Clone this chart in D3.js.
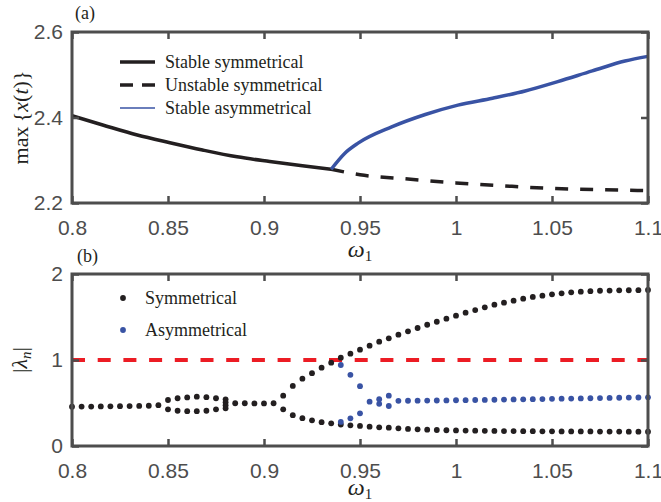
<!DOCTYPE html>
<html>
<head>
<meta charset="utf-8">
<script src="https://cdn.jsdelivr.net/npm/d3@7"></script>
<style>
  body { margin: 0; background: #fff; }
  svg { display: block; }
  .tick text { font-family: "Liberation Sans", Arial, sans-serif; font-size: 21px; fill: #4d4d4d; }
  .serif { font-family: "Liberation Serif", "Times New Roman", serif; fill: #231f20; }
</style>
</head>
<body>
<svg id="chart" width="661" height="502"></svg>
<script>
// panel (a): max{x(t)} vs omega_1
var stableSymW = [0.8, 0.816, 0.834, 0.851, 0.868, 0.886, 0.903, 0.92, 0.935];
var stableSymY = [2.404, 2.3825, 2.359, 2.341, 2.324, 2.308, 2.297, 2.287, 2.279];
var unstableSymW = [0.935, 0.95, 0.975, 1.0, 1.025, 1.05, 1.075, 1.1];
var unstableSymY = [2.279, 2.266, 2.256, 2.247, 2.24, 2.234, 2.231, 2.229];
var stableAsymW = [0.935, 0.942, 0.949, 0.9665, 0.984, 1.001, 1.019, 1.036, 1.053, 1.071, 1.088, 1.1];
var stableAsymY = [2.279, 2.316, 2.34, 2.378, 2.407, 2.429, 2.445, 2.462, 2.484, 2.509, 2.532, 2.543];

// panel (b): |lambda_n| vs omega_1
var symOmega = [0.8, 0.805, 0.81, 0.815, 0.82, 0.825, 0.83, 0.835, 0.84, 0.845,
  0.85, 0.855, 0.86, 0.865, 0.87, 0.875, 0.88, 0.885, 0.89, 0.895,
  0.9, 0.905, 0.91, 0.915, 0.92, 0.925, 0.93, 0.935, 0.94, 0.945,
  0.95, 0.955, 0.96, 0.965, 0.97, 0.975, 0.98, 0.985, 0.99, 0.995,
  1.0, 1.005, 1.01, 1.015, 1.02, 1.025, 1.03, 1.035, 1.04, 1.045,
  1.05, 1.055, 1.06, 1.065, 1.07, 1.075, 1.08, 1.085, 1.09, 1.095, 1.1];
var symUpper = [0.457, 0.458, 0.459, 0.46, 0.461, 0.463, 0.464, 0.466, 0.468, 0.475,
  0.535, 0.555, 0.565, 0.573, 0.568, 0.555, 0.543, 0.497, 0.497, 0.495,
  0.495, 0.497, 0.585, 0.698, 0.783, 0.847, 0.911, 0.969, 1.027, 1.073,
  1.12, 1.166, 1.213, 1.252, 1.294, 1.333, 1.372, 1.41, 1.445, 1.48,
  1.515, 1.55, 1.581, 1.612, 1.643, 1.667, 1.69, 1.713, 1.733, 1.748,
  1.764, 1.775, 1.787, 1.794, 1.8, 1.805, 1.807, 1.81, 1.811, 1.812, 1.814];
var symLower = [null, null, null, null, null, null, null, null, null, null,
  0.426, 0.41, 0.405, 0.405, 0.41, 0.426, 0.438, null, null, null,
  null, null, 0.427, 0.358, 0.324, 0.298, 0.277, 0.264, 0.25, 0.24,
  0.233, 0.225, 0.217, 0.213, 0.205, 0.199, 0.194, 0.19, 0.186, 0.183,
  0.181, 0.179, 0.178, 0.176, 0.175, 0.174, 0.173, 0.172, 0.172, 0.171,
  0.171, 0.17, 0.17, 0.169, 0.169, 0.168, 0.168, 0.168, 0.167, 0.167, 0.167];
var symExtraW = [0.88, 0.88];
var symExtraY = [0.508, 0.473];

var asymOmega = [0.94, 0.945, 0.95, 0.955, 0.96, 0.965, 0.97, 0.975, 0.98, 0.985,
  0.99, 0.995, 1.0, 1.005, 1.01, 1.015, 1.02, 1.025, 1.03, 1.035,
  1.04, 1.045, 1.05, 1.055, 1.06, 1.065, 1.07, 1.075, 1.08, 1.085,
  1.09, 1.095, 1.1];
var asymUpper = [0.942, 0.828, 0.696, 0.515, 0.545, 0.585, 0.525, 0.526, 0.527, 0.528,
  0.529, 0.53, 0.532, 0.533, 0.535, 0.536, 0.538, 0.54, 0.541, 0.543,
  0.545, 0.546, 0.548, 0.55, 0.551, 0.553, 0.555, 0.557, 0.559, 0.561,
  0.563, 0.564, 0.566];
var asymLower = [0.28, 0.322, 0.38, null, 0.49, 0.465, null, null, null, null,
  null, null, null, null, null, null, null, null, null, null,
  null, null, null, null, null, null, null, null, null, null,
  null, null, null];

var xTicks = [0.8, 0.85, 0.9, 0.95, 1, 1.05, 1.1];
var yTicksA = [2.2, 2.4, 2.6];
var yTicksB = [0, 1, 2];
var legendA = ['Stable symmetrical', 'Unstable symmetrical', 'Stable asymmetrical'];
var legendB = ['Symmetrical', 'Asymmetrical'];

var FRAME = '#4d4d4d';
var INK = '#231f20';
var BLUE = '#3953a4';
var RED = '#ec1c24';

var svg = d3.select('#chart');

var x = d3.scaleLinear().domain([0.8, 1.1]).range([72, 648]);
var yA = d3.scaleLinear().domain([2.2, 2.6]).range([203, 32]);
var yB = d3.scaleLinear().domain([0, 2]).range([446, 274]);

function pairs(w, v) {
  return w.map(function (d, i) { return [d, v[i]]; })
    .filter(function (d) { return d[1] !== null; });
}

function frame(y, yTicks) {
  var g = svg.append('g');
  var top = y.range()[1], bottom = y.range()[0];
  var left = x.range()[0], right = x.range()[1];
  var fmt = function (d) { return String(d); };

  g.append('g').attr('transform', 'translate(0,' + bottom + ')')
    .call(d3.axisBottom(x).tickValues(xTicks).tickFormat(fmt).tickSizeInner(-7).tickSizeOuter(0).tickPadding(17));
  g.append('g').attr('transform', 'translate(0,' + top + ')')
    .call(d3.axisTop(x).tickValues(xTicks).tickFormat('').tickSizeInner(-7).tickSizeOuter(0));
  g.append('g').attr('transform', 'translate(' + left + ',0)')
    .call(d3.axisLeft(y).tickValues(yTicks).tickFormat(fmt).tickSizeInner(-7).tickSizeOuter(0).tickPadding(9));
  g.append('g').attr('transform', 'translate(' + right + ',0)')
    .call(d3.axisRight(y).tickValues(yTicks).tickFormat('').tickSizeInner(-7).tickSizeOuter(0));

  g.selectAll('.domain').remove();
  g.selectAll('.tick line').attr('stroke', FRAME).attr('stroke-width', 2.5);

  g.append('rect')
    .attr('x', left).attr('y', top)
    .attr('width', right - left).attr('height', bottom - top)
    .attr('fill', 'none').attr('stroke', FRAME).attr('stroke-width', 3);
}

function omegaLabel(yBase) {
  var t = svg.append('text').attr('class', 'serif')
    .attr('x', (x.range()[0] + x.range()[1]) / 2).attr('y', yBase)
    .attr('text-anchor', 'middle');
  t.append('tspan').attr('font-style', 'italic').attr('font-size', 24).text('ω');
  t.append('tspan').attr('font-size', 15).attr('dy', 4).text('1');
}

// ---- panel (a)
var line = d3.line()
  .x(function (d) { return x(d[0]); })
  .y(function (d) { return yA(d[1]); })
  .curve(d3.curveMonotoneX);

svg.append('path').datum(pairs(unstableSymW, unstableSymY))
  .attr('d', line).attr('fill', 'none').attr('stroke', INK)
  .attr('stroke-width', 3.5).attr('stroke-dasharray', '13,12');
svg.append('path').datum(pairs(stableSymW, stableSymY))
  .attr('d', line).attr('fill', 'none').attr('stroke', INK).attr('stroke-width', 3.5);
svg.append('path').datum(pairs(stableAsymW, stableAsymY))
  .attr('d', line).attr('fill', 'none').attr('stroke', BLUE).attr('stroke-width', 3.5);

frame(yA, yTicksA);

var legA = svg.append('g');
var legStyles = [
  { stroke: INK, width: 3.5, dash: null },
  { stroke: INK, width: 3.5, dash: '13,9' },
  { stroke: BLUE, width: 1.6, dash: null }
];
legendA.forEach(function (label, i) {
  var ly = 62 + i * 23;
  legA.append('line').attr('x1', 120).attr('x2', 155).attr('y1', ly).attr('y2', ly)
    .attr('stroke', legStyles[i].stroke).attr('stroke-width', legStyles[i].width)
    .attr('stroke-dasharray', legStyles[i].dash);
  legA.append('text').attr('class', 'serif').attr('x', 165).attr('y', ly + 6)
    .attr('font-size', 18).text(label);
});

svg.append('text').attr('class', 'serif').attr('x', 75).attr('y', 19)
  .attr('font-size', 18).text('(a)');

var labA = svg.append('text').attr('class', 'serif').attr('font-size', 22)
  .attr('text-anchor', 'middle')
  .attr('transform', 'translate(28,117.5) rotate(-90)');
labA.append('tspan').text('max\u2009{');
labA.append('tspan').attr('font-style', 'italic').text('x');
labA.append('tspan').text('(');
labA.append('tspan').attr('font-style', 'italic').text('t');
labA.append('tspan').text(')}');

omegaLabel(257);

// ---- panel (b)
svg.append('line')
  .attr('x1', x(0.8)).attr('x2', x(1.1)).attr('y1', yB(1)).attr('y2', yB(1))
  .attr('stroke', RED).attr('stroke-width', 4).attr('stroke-dasharray', '13,12.7');

var symPts = pairs(symOmega, symUpper)
  .concat(pairs(symOmega, symLower))
  .concat(pairs(symExtraW, symExtraY));
var asymPts = pairs(asymOmega, asymUpper).concat(pairs(asymOmega, asymLower));

svg.append('g').selectAll('circle').data(symPts).join('circle')
  .attr('cx', function (d) { return x(d[0]); })
  .attr('cy', function (d) { return yB(d[1]); })
  .attr('r', 2.9).attr('fill', INK);
svg.append('g').selectAll('circle').data(asymPts).join('circle')
  .attr('cx', function (d) { return x(d[0]); })
  .attr('cy', function (d) { return yB(d[1]); })
  .attr('r', 2.9).attr('fill', BLUE);

frame(yB, yTicksB);

var legB = svg.append('g');
legendB.forEach(function (label, i) {
  var ly = 298 + i * 32;
  legB.append('circle').attr('cx', 123).attr('cy', ly).attr('r', 2.9)
    .attr('fill', i === 0 ? INK : BLUE);
  legB.append('text').attr('class', 'serif').attr('x', 145).attr('y', ly + 6)
    .attr('font-size', 18).text(label);
});

svg.append('text').attr('class', 'serif').attr('x', 77).attr('y', 262)
  .attr('font-size', 18).text('(b)');

var labB = svg.append('text').attr('class', 'serif').attr('font-size', 22)
  .attr('text-anchor', 'middle')
  .attr('transform', 'translate(27,360) rotate(-90)');
labB.append('tspan').text('|');
labB.append('tspan').attr('font-style', 'italic').text('λ');
labB.append('tspan').attr('font-style', 'italic').attr('font-size', 15).attr('dy', 4).text('n');
labB.append('tspan').attr('dy', -4).text('|');

omegaLabel(495);
</script>
</body>
</html>
